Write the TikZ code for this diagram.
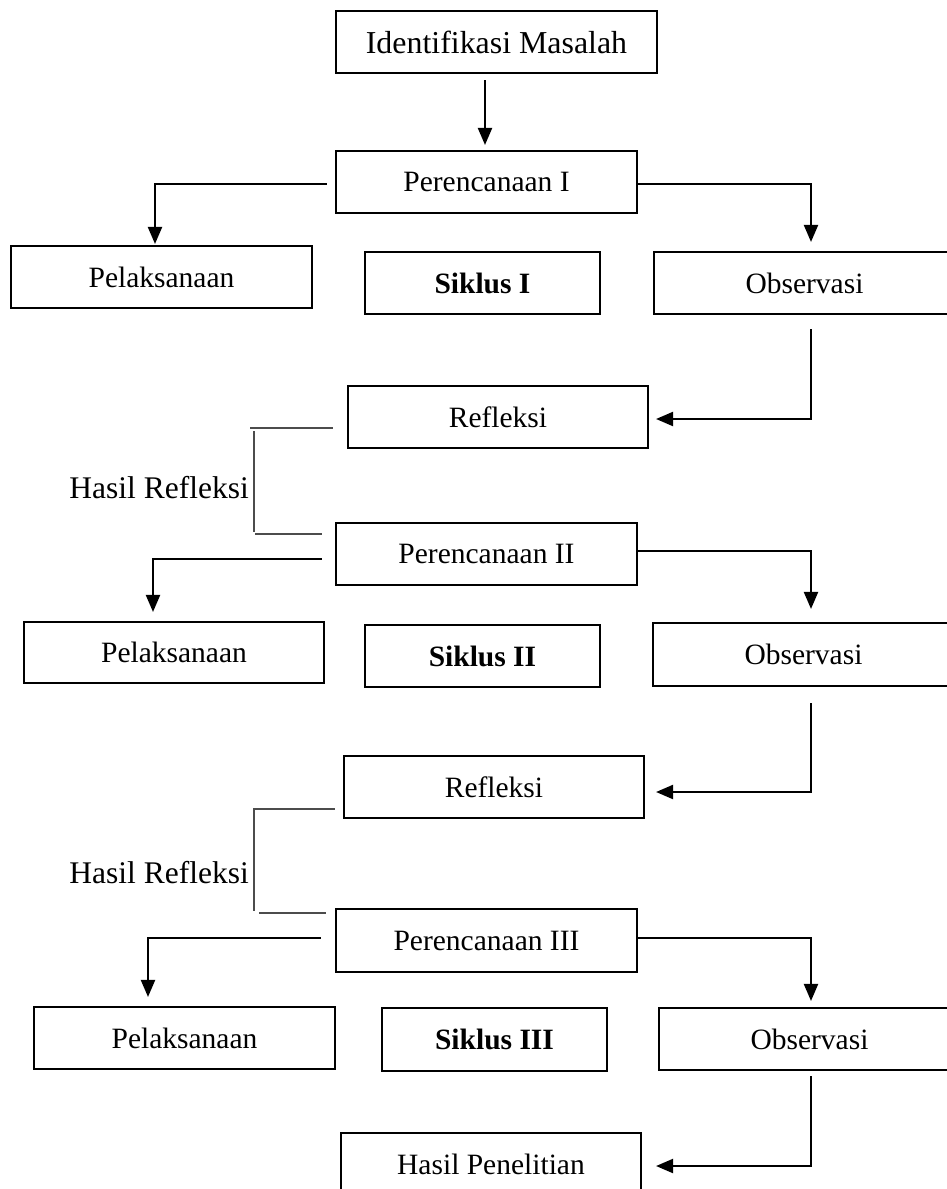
\documentclass[tikz,border=0pt]{standalone}
\usepackage{fontspec}
\setmainfont{Liberation Serif}
\usetikzlibrary{arrows.meta}
\begin{document}
\begin{tikzpicture}[x=1pt,y=-1pt,
  box/.style={draw,line width=2.1pt,minimum height=62pt,inner sep=0pt,font=\fontsize{29.5}{34}\selectfont},
  arr/.style={line width=2.1pt,-{Triangle[length=17pt,width=14pt]}},
  brk/.style={line width=1.4pt,draw=black!70},
  lbl/.style={inner sep=0pt,font=\fontsize{31.5}{36}\selectfont}]
\useasboundingbox (0,0) rectangle (947,1189);
% boxes
\node[box,minimum width=321pt,font=\fontsize{31.9}{36}\selectfont] (idm) at (496.5,42) {Identifikasi Masalah};
\node[box,minimum width=301pt] (p1) at (486.5,182) {Perencanaan I};
\node[box,minimum width=301pt] (pel1) at (161.5,277) {Pelaksanaan};
\node[box,minimum width=235pt] (sik1) at (482.5,283) {\bfseries Siklus I};
\node[box,minimum width=301pt] (obs1) at (804.5,283) {Observasi};
\node[box,minimum width=300pt] (ref1) at (498,417) {Refleksi};
\node[lbl,anchor=east] (hr1) at (249,488) {Hasil Refleksi};
\node[box,minimum width=301pt] (p2) at (486.5,554) {Perencanaan II};
\node[box,minimum width=300pt,minimum height=61pt] (pel2) at (174,652.5) {Pelaksanaan};
\node[box,minimum width=235pt] (sik2) at (482.5,656) {\bfseries Siklus II};
\node[box,minimum width=301pt,minimum height=63pt] (obs2) at (803.5,654.5) {Observasi};
\node[box,minimum width=300pt] (ref2) at (494,787) {Refleksi};
\node[lbl,anchor=east] (hr2) at (249,873) {Hasil Refleksi};
\node[box,minimum width=301pt,minimum height=63pt] (p3) at (486.5,940.5) {Perencanaan III};
\node[box,minimum width=301pt] (pel3) at (184.5,1038) {Pelaksanaan};
\node[box,minimum width=225pt,minimum height=63pt] (sik3) at (494.5,1039.5) {\bfseries Siklus III};
\node[box,minimum width=301pt] (obs3) at (809.5,1039) {Observasi};
\node[box,minimum width=300pt] (hp) at (491,1164) {Hasil Penelitian};
% cycle I
\draw[arr] ([xshift=-11.5pt,yshift=-6pt]idm.south) -- ([xshift=-1.5pt,yshift=5pt]p1.north);
\draw[arr] ([xshift=-8pt,yshift=-2pt]p1.west) -| ([xshift=-6.5pt,yshift=1pt]pel1.north);
\draw[arr] ([yshift=-2pt]p1.east) -| ([xshift=6.5pt,yshift=9pt]obs1.north);
\draw[arr] ([xshift=6.5pt,yshift=-14pt]obs1.south) |- ([xshift=7pt,yshift=-2pt]ref1.east);
\draw[brk] ([xshift=-14pt,yshift=-11pt]ref1.west) -- ++(-83,0);
\draw[brk] ([xshift=5pt,yshift=57pt]hr1.east) -- ([xshift=5pt,yshift=-44pt]hr1.east);
\draw[brk] ([xshift=-13pt,yshift=20pt]p2.west) -- ++(-67,0);
% cycle II
\draw[arr] ([xshift=-13pt,yshift=-5pt]p2.west) -| ([xshift=-21pt,yshift=9pt]pel2.north);
\draw[arr] ([yshift=3pt]p2.east) -| ([xshift=7.5pt,yshift=13pt]obs2.north);
\draw[arr] ([xshift=7.5pt,yshift=-16pt]obs2.south) |- ([xshift=11pt,yshift=-5pt]ref2.east);
\draw[brk] ([xshift=-8pt,yshift=-22pt]ref2.west) -- ++(-82,0);
\draw[brk] ([xshift=5pt,yshift=64pt]hr2.east) -- ([xshift=5pt,yshift=-38pt]hr2.east);
\draw[brk] ([xshift=-9pt,yshift=27.5pt]p3.west) -- ++(-67,0);
% cycle III
\draw[arr] ([xshift=-14pt,yshift=2.5pt]p3.west) -| ([xshift=-36.5pt,yshift=9pt]pel3.north);
\draw[arr] ([yshift=2.5pt]p3.east) -| ([xshift=1.5pt,yshift=6pt]obs3.north);
\draw[arr] ([xshift=1.5pt,yshift=-5pt]obs3.south) |- ([xshift=14pt,yshift=-2pt]hp.east);
\end{tikzpicture}
\end{document}
